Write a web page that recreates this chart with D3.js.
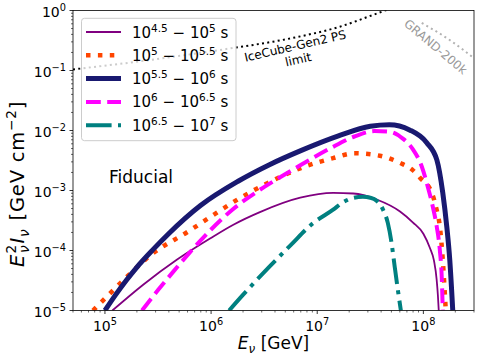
<!DOCTYPE html>
<html>
<head>
<meta charset="utf-8">
<script src="https://cdn.jsdelivr.net/npm/d3@7"></script>
<style>
body { margin: 0; background: #fff; }
svg { font-family: "DejaVu Sans", sans-serif; }
</style>
</head>
<body>
<div id="chart"></div>
<script>
// values, as log10(E / GeV) and log10(E^2 I / GeV cm^-2)
const binLo = ["4.5", "5", "5.5", "6", "6.5"];
const binHi = ["5", "5.5", "6", "6.5", "7"];

const logE_a = [5.07, 5.36, 5.68, 5.99, 6.21, 6.46, 6.84, 7.15, 7.34, 7.56, 7.78, 7.90, 8.00, 8.06, 8.10, 8.125, 8.137, 8.145];
const logF_a = [-5.0, -4.57, -4.15, -3.80, -3.57, -3.36, -3.12, -3.04, -3.05, -3.15, -3.35, -3.53, -3.72, -3.95, -4.17, -4.48, -4.75, -5.0];

const logE_b = [4.887, 5.0, 5.2, 5.45, 5.77, 6.02, 6.24, 6.53, 6.84, 7.15, 7.35, 7.59, 7.78, 7.90, 7.97, 8.08, 8.126, 8.156, 8.183, 8.202, 8.211];
const logF_b = [-5.0, -4.8, -4.45, -4.05, -3.70, -3.41, -3.16, -2.88, -2.63, -2.46, -2.38, -2.42, -2.54, -2.66, -2.79, -3.04, -3.33, -3.61, -4.16, -4.71, -5.0];

const logE_c = [5.0, 5.1, 5.2, 5.3, 5.45, 5.6, 5.9, 6.25, 6.55, 6.84, 7.2, 7.5, 7.68, 7.87, 8.03, 8.127, 8.183, 8.221, 8.249, 8.277];
const logF_c = [-5.0, -4.74, -4.5, -4.28, -3.99, -3.72, -3.25, -2.85, -2.57, -2.34, -2.09, -1.93, -1.905, -1.99, -2.2, -2.49, -3.04, -3.61, -4.16, -5.0];

const logE_d = [5.349, 5.5, 5.65, 5.8, 6.0, 6.2, 6.45, 6.65, 6.84, 7.12, 7.35, 7.54, 7.68, 7.81, 7.90, 7.985, 8.042, 8.089, 8.126, 8.155, 8.173, 8.183];
const logF_d = [-5.0, -4.66, -4.34, -4.03, -3.65, -3.32, -3.0, -2.78, -2.58, -2.30, -2.10, -2.01, -2.02, -2.14, -2.31, -2.6, -2.94, -3.27, -3.6, -3.99, -4.44, -5.0];

const logE_e = [6.17, 6.3, 6.55, 6.75, 6.95, 7.15, 7.24, 7.335, 7.43, 7.5, 7.56, 7.62, 7.665, 7.70, 7.73, 7.76, 7.788];
const logF_e = [-5.0, -4.74, -4.27, -3.91, -3.56, -3.32, -3.2, -3.125, -3.105, -3.12, -3.17, -3.32, -3.54, -3.87, -4.27, -4.66, -5.0];

const logE_gen2 = [4.699, 5.424, 6.206, 6.582, 6.902, 7.213, 7.524, 7.7];
const logF_gen2 = [-0.983, -0.825, -0.625, -0.52, -0.408, -0.27, -0.075, 0.04];

const logE_grand = [7.985, 8.248, 8.48];
const logF_grand = [-0.208, -0.492, -0.8];

const xTickExp = [5, 6, 7, 8];
const yTickExp = [0, -1, -2, -3, -4, -5];

const series = [
    {e: logE_a, f: logF_a, color: "purple", w: 1.8, dash: null},
    {e: logE_b, f: logF_b, color: "orangered", w: 4.5, dash: "4.5,7.4"},
    {e: logE_c, f: logF_c, color: "midnightblue", w: 5, dash: null},
    {e: logE_d, f: logF_d, color: "magenta", w: 4, dash: "14.8,6.4"},
    {e: logE_e, f: logF_e, color: "teal", w: 4, dash: "25.6,6.4,4,6.4"}
];

const width = 478, height = 357;
const margin = {top: 10.5, right: 4, bottom: 46.5, left: 73};

const svg = d3.select("#chart").append("svg")
    .attr("width", width)
    .attr("height", height);

const x = d3.scaleLog().domain([5e4, 3e8]).range([margin.left, width - margin.right]);
const y = d3.scaleLog().domain([1e-5, 1]).range([height - margin.bottom, margin.top]);

svg.append("clipPath").attr("id", "clip")
    .append("rect")
    .attr("x", margin.left).attr("y", margin.top)
    .attr("width", width - margin.left - margin.right)
    .attr("height", height - margin.top - margin.bottom);

// rich text helper: parts = [text, kind, italic, dx]
function rich(sel, parts, size) {
    let shift = 0;
    parts.forEach(p => {
        const kind = p[1];
        const target = kind === "sup" ? -0.4 * size : kind === "sub" ? 0.25 * size : 0;
        const t = sel.append("tspan").attr("dy", target - shift).text(p[0]);
        if (kind) t.attr("font-size", 0.7 * size);
        if (p[2]) t.attr("font-style", "italic");
        if (p[3]) t.attr("dx", p[3]);
        shift = target;
    });
}

const line = (e, f) => d3.line()
    .x(i => x(Math.pow(10, e[i])))
    .y(i => y(Math.pow(10, f[i])))
    .curve(d3.curveMonotoneX)(d3.range(e.length));

const plot = svg.append("g").attr("clip-path", "url(#clip)");

// sensitivity curves
plot.append("path")
    .attr("d", line(logE_gen2, logF_gen2))
    .attr("fill", "none").attr("stroke", "black")
    .attr("stroke-width", 2).attr("stroke-dasharray", "2,3.3");

plot.append("path")
    .attr("d", line(logE_grand, logF_grand))
    .attr("fill", "none").attr("stroke", "#b3b3b3")
    .attr("stroke-width", 2).attr("stroke-dasharray", "2,3.3");

series.forEach(s => {
    plot.append("path")
        .attr("d", line(s.e, s.f))
        .attr("fill", "none")
        .attr("stroke", s.color)
        .attr("stroke-width", s.w)
        .attr("stroke-linejoin", "round")
        .attr("stroke-dasharray", s.dash);
});

// annotations
const gen2Label = svg.append("text")
    .attr("transform", "translate(296,50) rotate(-13)")
    .attr("text-anchor", "middle")
    .attr("font-size", 12);
gen2Label.append("tspan").attr("x", 0).attr("y", 0).text("IceCube-Gen2 PS");
gen2Label.append("tspan").attr("x", 0).attr("y", 14).text("limit");

svg.append("text")
    .attr("transform", "translate(433,50) rotate(40)")
    .attr("text-anchor", "middle")
    .attr("font-size", 12)
    .attr("fill", "#999")
    .text("GRAND-200k");

svg.append("text")
    .attr("x", 109).attr("y", 183)
    .attr("font-size", 17)
    .text("Fiducial");

// axes
const x0 = margin.left, x1 = width - margin.right;
const y0 = height - margin.bottom, y1 = margin.top;

const xMinor = [];
for (let p = 4; p <= 8; p++) for (let k = 2; k <= 9; k++) {
    const v = k * Math.pow(10, p);
    if (v >= 5e4 && v <= 3e8) xMinor.push(v);
}
const yMinor = [];
for (let p = -5; p < 0; p++) for (let k = 2; k <= 9; k++) yMinor.push(k * Math.pow(10, p));

const axes = svg.append("g").attr("stroke", "black");
axes.selectAll(".xmaj").data(xTickExp).enter().append("line")
    .attr("x1", d => x(Math.pow(10, d))).attr("x2", d => x(Math.pow(10, d)))
    .attr("y1", y0).attr("y2", y0 + 3.5).attr("stroke-width", 0.8);
axes.selectAll(".xmin").data(xMinor).enter().append("line")
    .attr("x1", d => x(d)).attr("x2", d => x(d))
    .attr("y1", y0).attr("y2", y0 + 2).attr("stroke-width", 0.6);
axes.selectAll(".ymaj").data(yTickExp).enter().append("line")
    .attr("x1", x0).attr("x2", x0 - 3.5)
    .attr("y1", d => y(Math.pow(10, d))).attr("y2", d => y(Math.pow(10, d)))
    .attr("stroke-width", 0.8);
axes.selectAll(".ymin").data(yMinor).enter().append("line")
    .attr("x1", x0).attr("x2", x0 - 2)
    .attr("y1", d => y(d)).attr("y2", d => y(d))
    .attr("stroke-width", 0.6);

xTickExp.forEach(d => {
    const t = svg.append("text")
        .attr("x", x(Math.pow(10, d))).attr("y", y0 + 20)
        .attr("text-anchor", "middle").attr("font-size", 14);
    rich(t, [["10"], [String(d), "sup"]], 14);
});
yTickExp.forEach(d => {
    const t = svg.append("text")
        .attr("x", x0 - 7).attr("y", y(Math.pow(10, d)) + 6)
        .attr("text-anchor", "end").attr("font-size", 14);
    rich(t, [["10"], [String(d).replace("-", "\u2212"), "sup"]], 14);
});

const xl = svg.append("text")
    .attr("x", (x0 + x1) / 2).attr("y", 349)
    .attr("text-anchor", "middle").attr("font-size", 17);
rich(xl, [["E", null, true], ["\u03bd", "sub", true], [" [GeV]"]], 17);

const yl = svg.append("text")
    .attr("transform", "translate(24,267) rotate(-90)")
    .attr("text-anchor", "start").attr("font-size", 19.5)
    .attr("letter-spacing", 0.8);
rich(yl, [["E", null, true], ["2", "sup", false, 0.5], ["\u03bd", "sub", true, -9], ["I", null, true, 1], ["\u03bd", "sub", true], [" [GeV cm", null, false, 1], ["\u22122", "sup"], ["]"]], 19.5);

// legend
const leg = svg.append("g");
leg.append("rect")
    .attr("x", 81.5).attr("y", 18.3)
    .attr("width", 154.5).attr("height", 122.4)
    .attr("rx", 3)
    .attr("fill", "white").attr("fill-opacity", 0.8)
    .attr("stroke", "#cccccc").attr("stroke-width", 1);

series.forEach((s, i) => {
    const cy = 32 + i * 23.3;
    leg.append("line")
        .attr("x1", 86).attr("x2", 121)
        .attr("y1", cy).attr("y2", cy)
        .attr("stroke", s.color)
        .attr("stroke-width", s.w)
        .attr("stroke-dasharray", s.dash);
    const t = leg.append("text")
        .attr("x", 132).attr("y", cy + 5.5)
        .attr("font-size", 15);
    rich(t, [["10"], [binLo[i], "sup"], [" \u2212 10"], [binHi[i], "sup"], [" s"]], 15);
});

// frame
svg.append("rect")
    .attr("x", x0).attr("y", y1)
    .attr("width", x1 - x0).attr("height", y0 - y1)
    .attr("fill", "none").attr("stroke", "black").attr("stroke-width", 0.8);
</script>
</body>
</html>
